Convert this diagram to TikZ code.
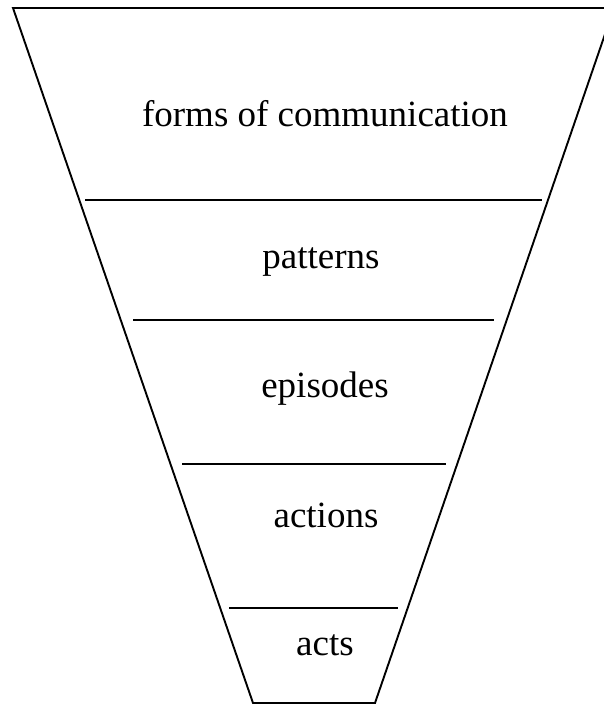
\documentclass[tikz,border=0pt]{standalone}
\usepackage{fontspec}
\setmainfont{Liberation Serif}

\begin{document}
\begin{tikzpicture}[x=1pt,y=-1pt,line width=1.9pt]
\useasboundingbox (0,0) rectangle (604,706);
\clip (0,0) rectangle (604,706);

% the funnel
\draw (13,8) -- (614,8) -- (375,703) -- (253,703) -- cycle;

% layer borders
\draw (85,200) -- (542,200);
\draw (133,320) -- (494,320);
\draw (182,464) -- (446,464);
\draw (229,608) -- (398,608);

% layer names
\node[anchor=base, inner sep=0pt, font=\fontsize{37}{40}\selectfont](forms) at (325,127) {forms of communication};
\node[anchor=base, inner sep=0pt, font=\fontsize{37}{40}\selectfont](patterns) at (321,268) {patterns};
\node[anchor=base, inner sep=0pt, font=\fontsize{37}{40}\selectfont](episodes) at (325,397) {episodes};
\node[anchor=base, inner sep=0pt, font=\fontsize{37}{40}\selectfont](actions) at (326,527) {actions};
\node[anchor=base, inner sep=0pt, font=\fontsize{37}{40}\selectfont](acts) at (325,655) {acts};
\end{tikzpicture}
\end{document}
